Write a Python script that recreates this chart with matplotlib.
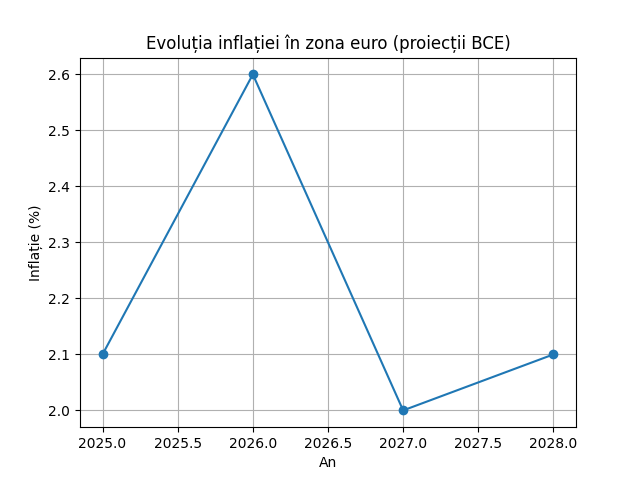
import matplotlib
matplotlib.use("Agg")
import matplotlib.pyplot as plt

years = [2025, 2026, 2027, 2028]
inflation = [2.1, 2.6, 2.0, 2.1]

plt.figure(figsize=(6.4, 4.8), dpi=100)
plt.plot(years, inflation, marker="o")
plt.title("Evoluția inflației în zona euro (proiecții BCE)")
plt.xlabel("An")
plt.ylabel("Inflație (%)")
plt.grid(True)
plt.savefig("out.png")
